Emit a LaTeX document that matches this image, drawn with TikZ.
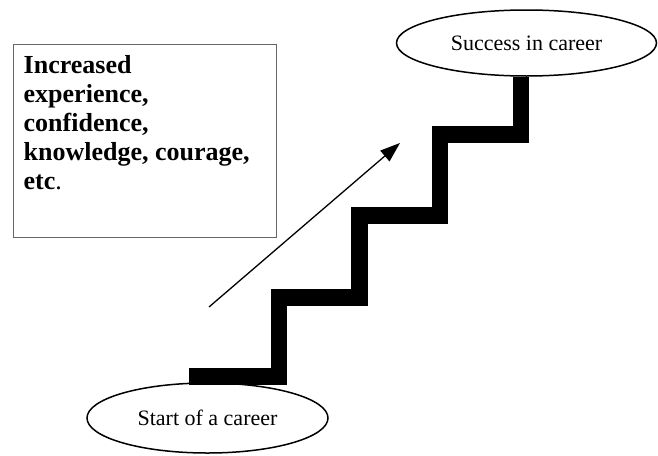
\documentclass[tikz,border=0pt]{standalone}
\usepackage{fontspec}
\setmainfont{Liberation Serif}
\usetikzlibrary{shapes.geometric,arrows.meta}

\tikzset{
  basic/.style   = {draw, ellipse, line width=1.5pt, fill=white, inner sep=0pt},
  goal/.style    = {basic, font=\fontsize{22}{26}\selectfont},
  gainbox/.style = {draw=black!60, line width=1pt, rectangle, inner sep=10.5pt,
                    anchor=north west, font=\fontsize{26}{29}\selectfont\bfseries},
  stair/.style   = {line width=16.5pt, line join=miter},
  climb/.style   = {line width=1.3pt, -{Triangle[length=20pt,width=14pt]}}
}

\begin{document}
\begin{tikzpicture}[x=1pt, y=-1pt]
\useasboundingbox (0,0) rectangle (658,455);

% the two ends of the career
\node[goal, minimum width=260pt, minimum height=66pt] (success) at (526.5,43) {Success in career};
\node[goal, minimum width=241pt, minimum height=70pt] (start) at (207.5,418) {Start of a career};

% what is gained on the way
\node[gainbox] (gains) at (12.7,44)
  {\parbox[c][172pt][t]{242pt}{\raggedright Increased\\ experience,\\ confidence,\\ knowledge, courage,\\ etc{\mdseries.}}};

% the steps, bottom to top
\coordinate (st0) at (189,376.5);
\draw[stair] (st0) -- ++(90,0) -- ++(0,-79) -- ++(80.5,0) -- ++(0,-82)
  -- ++(80.5,0) -- ++(0,-81) -- ++(81,0) coordinate (st4) -- (st4 |- success.south);

\coordinate (arrS) at (209,307);
\coordinate (arrE) at (400,143);
\draw[climb] (arrS) -- (arrE);

\end{tikzpicture}
\end{document}
